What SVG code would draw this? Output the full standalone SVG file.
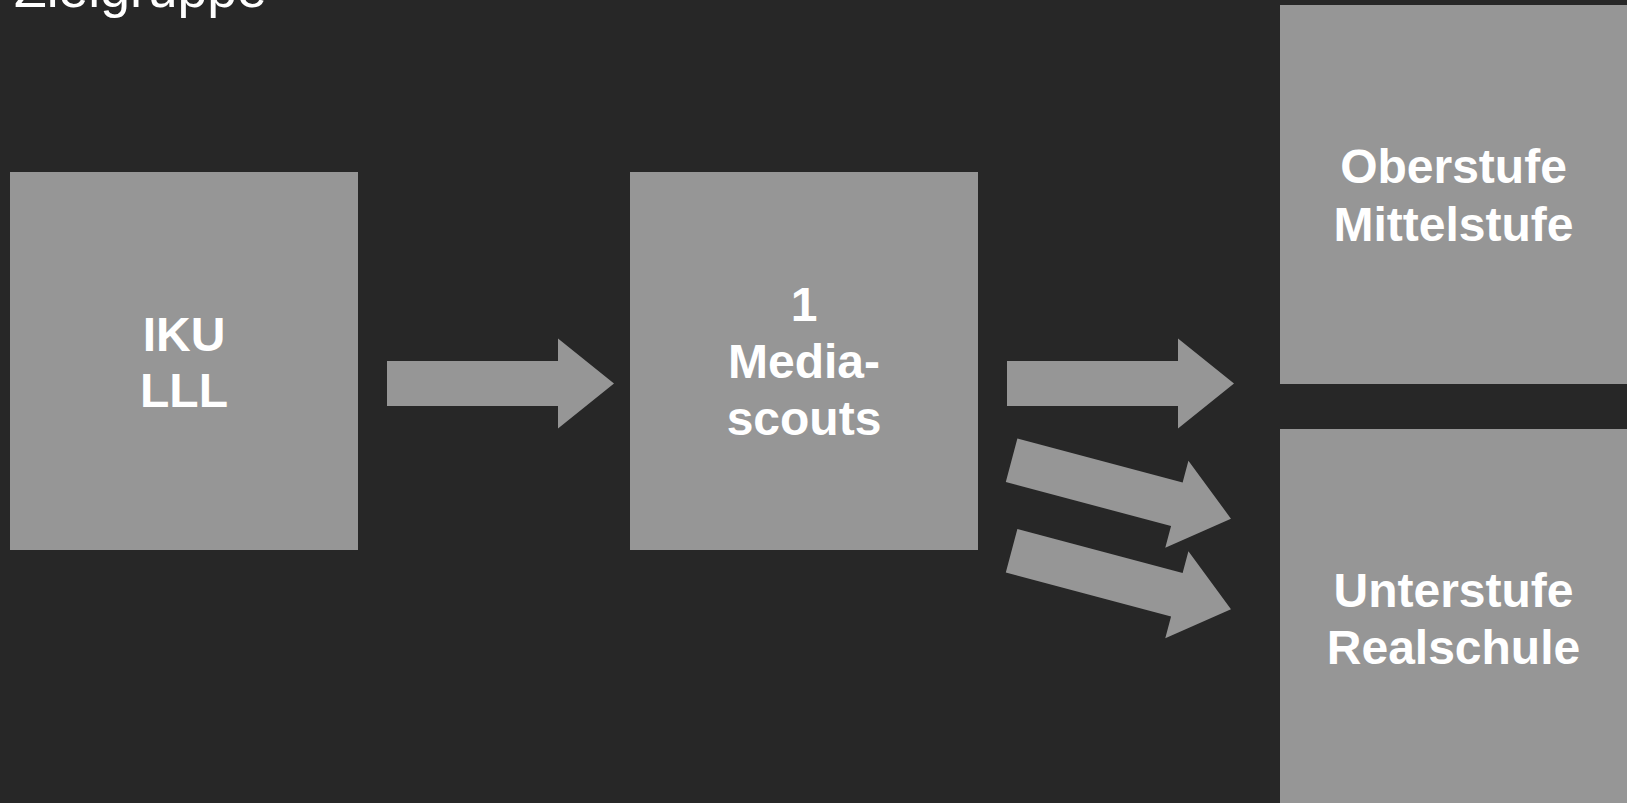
<svg xmlns="http://www.w3.org/2000/svg" xmlns:xlink="http://www.w3.org/1999/xlink" width="1627" height="803" viewBox="0 0 1627 803">
  <defs>
    <style>
      .box { fill: #969696; }
      .label { font-family: "Liberation Sans", Arial, sans-serif; font-weight: bold; font-size: 48px; fill: #ffffff; text-anchor: middle; }
      .title { font-family: "Liberation Sans", Arial, sans-serif; font-size: 53.5px; fill: #ffffff; }
      .arrow { fill: #969696; }
    </style>
    <!-- block arrow, origin at the middle of the tail, pointing along +x -->
    <path id="arrow" class="arrow" d="M0,-22.5 H171 V-45 L227,0 L171,45 V22.5 H0 Z"/>
  </defs>

  <rect width="1627" height="803" fill="#272727"/>

  <!-- heading sits partly above the top edge of the page -->
  <text class="title" x="14" y="7">Zielgruppe</text>

  <g id="node-iku">
    <rect class="box" x="10" y="172" width="348" height="378"/>
    <text class="label" x="184" y="351">IKU</text>
    <text class="label" x="184" y="407">LLL</text>
  </g>

  <g id="node-mediascouts">
    <rect class="box" x="630" y="172" width="348" height="378"/>
    <text class="label" x="804" y="321">1</text>
    <text class="label" x="804" y="378">Media-</text>
    <text class="label" x="804" y="435">scouts</text>
  </g>

  <g id="node-oberstufe">
    <rect class="box" x="1280" y="5" width="347" height="379"/>
    <text class="label" x="1453.5" y="183">Oberstufe</text>
    <text class="label" x="1453.5" y="240.5">Mittelstufe</text>
  </g>

  <g id="node-unterstufe">
    <rect class="box" x="1280" y="429" width="347" height="374"/>
    <text class="label" x="1453.5" y="606.5">Unterstufe</text>
    <text class="label" x="1453.5" y="664">Realschule</text>
  </g>

  <g id="connectors">
    <use xlink:href="#arrow" href="#arrow" transform="translate(387,383.5)"/>
    <use xlink:href="#arrow" href="#arrow" transform="translate(1007,383.5)"/>
    <use xlink:href="#arrow" href="#arrow" transform="translate(1011.6,460.3) rotate(14.9)"/>
    <use xlink:href="#arrow" href="#arrow" transform="translate(1011.6,550.8) rotate(14.9)"/>
  </g>
</svg>
